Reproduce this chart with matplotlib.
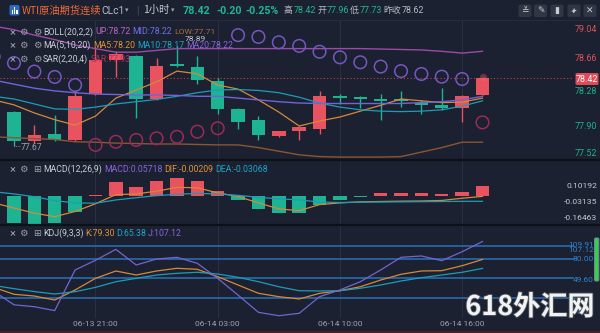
import matplotlib
matplotlib.use('Agg')
import matplotlib.pyplot as plt
from matplotlib.patches import Rectangle, FancyBboxPatch, FancyArrowPatch
from matplotlib.lines import Line2D
import matplotlib.patheffects as pe

W, H = 600, 333
BG = '#1b2130'
RED = '#e9525f'
GREEN = '#1db494'
GRID = '#283041'
SEP = '#0e1118'
CJK = ['Noto Sans CJK SC', 'DejaVu Sans']
LAT = ['Roboto', 'DejaVu Sans']

# ---------------- data ----------------
idx = list(range(-1, 24))
time_ticks = [4, 10, 16, 22]
time_labels = ['06-13 21:00', '06-14 03:00', '06-14 10:00', '06-14 16:00']

opens  = [78.31, 78.05, 77.72, 77.80, 77.73, 78.25, 78.62, 78.67, 78.19, 78.57, 78.55, 78.39,
          78.08, 77.96, 77.78, 77.83, 77.86, 78.22, 78.20, 78.19, 78.182, 78.15, 78.12, 78.09, 78.23]
highs  = [78.33, 78.06, 77.90, 78.01, 78.29, 78.77, 78.72, 78.68, 78.65, 78.78, 78.67, 78.42,
          78.09, 78.00, 77.84, 77.89, 78.28, 78.245, 78.22, 78.245, 78.28, 78.18, 78.31, 78.23, 78.44]
lows   = [78.03, 77.67, 77.70, 77.72, 77.72, 78.24, 78.44, 77.98, 78.18, 78.55, 78.36, 78.02,
          77.86, 77.74, 77.77, 77.73, 77.80, 78.14, 78.09, 77.96, 78.10, 78.02, 78.07, 77.93, 78.23]
closes = [78.05, 77.72, 77.79, 77.73, 78.22, 78.62, 78.69, 78.19, 78.56, 78.565, 78.40, 78.08,
          77.93, 77.79, 77.83, 77.88, 78.22, 78.20, 78.195, 78.17, 78.178, 78.12, 78.09, 78.22, 78.42]

boll_up  = [79.00, 78.96, 78.90, 78.85, 78.79, 78.75, 78.71, 78.71, 78.73, 78.75, 78.75, 78.75,
            78.75, 78.75, 78.75, 78.75, 78.75, 78.75, 78.75, 78.745, 78.74, 78.735, 78.72, 78.70, 78.72]
boll_mid = [78.40, 78.355, 78.31, 78.28, 78.26, 78.245, 78.24, 78.235, 78.235, 78.23, 78.22, 78.22,
            78.20, 78.18, 78.16, 78.145, 78.14, 78.14, 78.14, 78.14, 78.14, 78.15, 78.16, 78.18, 78.22]
boll_low = [77.77, 77.76, 77.75, 77.74, 77.715, 77.71, 77.70, 77.695, 77.69, 77.69, 77.685, 77.68,
            77.68, 77.65, 77.61, 77.57, 77.55, 77.545, 77.545, 77.545, 77.55, 77.60, 77.65, 77.71, 77.71]
ma5  = [78.18, 78.125, 78.035, 77.96, 77.90, 78.00, 78.20, 78.29, 78.38, 78.50, 78.47, 78.345,
        78.30, 78.18, 78.045, 77.89, 77.945, 77.99, 78.055, 78.12, 78.19, 78.17, 78.15, 78.155, 78.20]
ma10 = [78.22, 78.19, 78.135, 78.08, 78.075, 78.10, 78.135, 78.16, 78.185, 78.22, 78.26, 78.29,
        78.295, 78.285, 78.26, 78.21, 78.145, 78.10, 78.07, 78.055, 78.05, 78.055, 78.07, 78.11, 78.17]
ma20 = boll_mid
sar  = [78.66, 78.59, 78.495, 78.435, 78.345, 77.68, 77.715, 77.735, 77.753, 77.77, 77.827, 77.865,
        78.90, 78.88, 78.82, 78.78, 78.715, 78.653, 78.598, 78.55, 78.50, 78.468, 78.438, 78.412, 77.93]

macd_hist = [-0.150, -0.159, -0.163, -0.159, -0.095, 0.006, 0.080, 0.054, 0.089, 0.102, 0.089, 0.031,
             -0.023, -0.076, -0.101, -0.100, -0.052, -0.023, -0.003, 0.016, 0.019, 0.019, 0.014, 0.025, 0.05718]
dif = [-0.040, -0.070, -0.100, -0.120, -0.090, -0.045, 0.008, 0.012, 0.028, 0.050, 0.048, 0.018,
       -0.003, -0.040, -0.075, -0.085, -0.050, -0.040, -0.034, -0.032, -0.030, -0.029, -0.026, -0.013, -0.00209]
dea = [0.025, 0.012, -0.004, -0.027, -0.040, -0.042, -0.023, -0.010, 0.002, 0.010, 0.015, 0.012,
       0.004, -0.008, -0.016, -0.023, -0.035, -0.038, -0.036, -0.035, -0.034, -0.033, -0.032, -0.031, -0.03068]

k_line = [36, 25.3, 22.6, 16.4, 32, 50, 61.4, 55.2, 61.4, 65.6, 64, 52.6,
          39.7, 26.8, 21.6, 18, 26.8, 30.8, 37, 47.4, 56.3, 61.4, 61.9, 69.6, 79.30]
d_line = [39, 34, 29.5, 25.7, 29.3, 36, 44.8, 50, 55.2, 57.8, 59.4, 56.7,
          51.6, 44.8, 37, 30.8, 30.4, 30.8, 34.6, 39.7, 45.9, 51, 55.2, 59.4, 65.38]
j_line = [30, 9, 6, 0, 63, 78, 95, 70.7, 80, 82.6, 73.3, 50,
          24, -2.7, -7.9, -4.2, 21.6, 32, 44.8, 63, 82.6, 84.7, 77.4, 91.3, 107.12]
kdj_levels = [100, 80, 50, 20]

price_ticks = ['79.04', '78.66', '78.28', '77.90', '77.52']
macd_ticks = ['0.10192', '-0.03135', '-0.16463']
kdj_ticks = ['109.91', '107.12', '80.00', '49.60', '20.00', '-10.71']

# ---------------- layout helpers ----------------
STEP, X_FIRST = 20.37, 14.0
XLIM = (-X_FIRST / STEP, (W - X_FIRST) / STEP)

fig = plt.figure(figsize=(W / 100, H / 100), dpi=100, facecolor=BG)


def txt(x, y, s, color, size=6.3, ha='left', va='center', family=None, weight='normal', z=5, **kw):
    return fig.text(x / W, 1 - y / H, s, color=color, fontsize=size, ha=ha, va=va,
                    family=family or LAT, fontweight=weight, zorder=z, **kw)


def frect(x0, y0, x1, y1, color, z=1, **kw):
    fig.patches.append(Rectangle((x0 / W, 1 - y1 / H), (x1 - x0) / W, (y1 - y0) / H,
                                 transform=fig.transFigure, facecolor=color, zorder=z, **kw))


def panel(top, bottom, ylim):
    ax = fig.add_axes([0, 1 - bottom / H, 1, (bottom - top) / H])
    ax.set_facecolor(BG)
    ax.set_xlim(*XLIM)
    ax.set_ylim(*ylim)
    for s in ax.spines.values():
        s.set_visible(False)
    ax.set_xticks([])
    ax.set_yticks([])
    for t in time_ticks:
        ax.axvline(t, color=GRID, lw=0.8, zorder=0)
    return ax


# ---------------- main panel ----------------
ax = panel(20, 160, (78.42 + (78.3 - 160) / 90, 78.42 + (78.3 - 20) / 90))
for i, o, h, l, c in zip(idx, opens, highs, lows, closes):
    col = RED if c >= o else GREEN
    ax.vlines(i, l, h, color=col, lw=1.0, zorder=3)
    hgt = abs(c - o)
    bot = min(o, c)
    if hgt < 0.02:
        bot = (o + c) / 2 - 0.01
        hgt = 0.02
    ax.bar(i, hgt, bottom=bot, width=0.66, color=col, lw=0, zorder=4)

ax.plot(idx, boll_up, color='#9c4aa8', lw=1.0, zorder=5)
ax.plot(idx, boll_low, color='#8a5634', lw=1.0, zorder=5)
ax.plot(idx, ma5, color='#d4893a', lw=0.9, zorder=5)
ax.plot(idx, ma10, color='#1c9cbc', lw=0.9, zorder=5)
ax.plot(idx, ma20, color='#7163d8', lw=1.0, zorder=5)
sar_cols = ['#7656c0' if s > c else '#9a2a58' for s, c in zip(sar, closes)]
ax.scatter(idx, sar, s=82, facecolors='none', edgecolors=sar_cols, linewidths=1.1, zorder=6)
ax.axhline(closes[-1], xmax=573 / W, color='#b8424f', lw=0.8, ls=(0, (1, 2)), zorder=2)
ax.scatter([idx[-1]], [highs[-1]], s=28, color='#ff6070', alpha=0.35, lw=0, zorder=6)
ax.plot([0, 0, 0.3], [lows[1] + 0.05, lows[1], lows[1]], color='#8a909a', lw=0.6, ls=(0, (1, 1)), zorder=6)

# ---------------- MACD panel ----------------
axm = panel(160, 225, (-29 / 172, 36 / 172))
axm.bar(idx, macd_hist, width=0.66, lw=0, zorder=3,
        color=[RED if v >= 0 else GREEN for v in macd_hist])
axm.plot(idx, dif, color='#d4893a', lw=0.9, zorder=4)
axm.plot(idx, dea, color='#1c9cbc', lw=0.9, zorder=4)

# ---------------- KDJ panel ----------------
axk = panel(225, 318, (80 - 59 / 0.645, 80 + 34 / 0.645))
for lv in kdj_levels:
    axk.axhline(lv, xmax=573 / W, color='#2766a6', lw=1.3, zorder=2)
axk.plot(idx, k_line, color='#d4893a', lw=0.9, zorder=4)
axk.plot(idx, d_line, color='#1c9cbc', lw=0.9, zorder=4)
axk.plot(idx, j_line, color='#7563d0', lw=0.9, zorder=4)

# separators
for yy, col, lw in [(20, '#262c3a', 0.8), (160, SEP, 1.6), (225, SEP, 1.6)]:
    fig.lines.append(Line2D([0, 1], [1 - yy / H] * 2, transform=fig.transFigure, color=col, lw=lw, zorder=10))
frect(0, 331, 600, 333, '#4d1f24', z=10)

# ---------------- axis labels ----------------
for s, y, col in zip(price_ticks, [29, 58.3, 91.7, 126.7, 153],
                     ['#e0505c', '#e0505c', '#1fb08f', '#1fb08f', '#1fb08f']):
    txt(597, y, s, col, size=6.4, ha='right', z=12)
fig.patches.append(FancyBboxPatch((575.5 / W, 1 - 85 / H), 23 / W, 12 / H, boxstyle='round,pad=0,rounding_size=0.003',
                                  transform=fig.transFigure, facecolor='#e04a58', edgecolor='none', zorder=11))
txt(587, 79.2, '78.42', 'white', size=6.4, ha='center', z=12)
txt(195, 39, '78.89', '#c4c8d0', size=6.0, ha='center', z=12)
txt(21, 148, '77.67', '#9aa0aa', size=6.2, z=12)

for s, y in zip(macd_ticks, [185.7, 201.7, 218.3]):
    txt(597, y, s, '#c4c8d0', size=6.1, ha='right', z=12)
for s, y in zip(kdj_ticks, [245.0, 250.2, 259.2, 280.5, 297.2, 311.7]):
    txt(594, y, s, '#2f80d0', size=6.0, ha='right', z=12)
fig.patches.append(FancyBboxPatch((594.6 / W, 1 - 281 / H), 4.2 / W, 43 / H, boxstyle='round,pad=0,rounding_size=0.003',
                                  transform=fig.transFigure, facecolor='#33d058', edgecolor='#6d8f83', lw=0.8, zorder=12))
for t, s in zip(time_ticks, time_labels):
    txt(X_FIRST + STEP * t, 324.3, s, '#9ca2ad', size=6.1, ha='center', z=12)

# ---------------- legends ----------------
ICON = '#9aa0aa'
LBL = '#c8ccd4'
def icons(y, third):
    txt(12.5, y, '×', ICON, size=8, ha='center', z=12)
    txt(23.5, y, '⚙', ICON, size=6.8, ha='center', family=['DejaVu Sans'], z=12)
    txt(37, y, third, ICON, size=6.8, ha='center', family=['DejaVu Sans'], z=12)

icons(32, '⚙')
txt(43, 32, 'BOLL(20,2,2)', LBL, z=12)
txt(95, 32, 'UP:78.72', '#c263c9', z=12)
txt(132, 32, 'MID:78.22', '#6f6ff0', z=12)
txt(174, 31.5, 'LOW:77.71', '#a86b3c', size=6.1, z=12)
icons(45.5, '⚙')
txt(43, 45.5, 'MA(5,10,20)', LBL, z=12)
txt(93, 45.5, 'MA5:78.20', '#e0913a', z=12)
txt(137, 45.5, 'MA10:78.17', '#1fa3c6', z=12)
txt(186, 45.5, 'MA20:78.22', '#8a63dd', z=12)
icons(59, '⚙')
txt(43, 59, 'SAR(2,20,4)', LBL, z=12)
txt(91, 59, 'SAR:77.93', '#b8305f', z=12)

icons(169, '⊞')
txt(43, 169, 'MACD(12,26,9)', LBL, z=12)
txt(104, 169, 'MACD:0.05718', '#8a63dd', z=12)
txt(164, 169, 'DIF:-0.00209', '#e0913a', z=12)
txt(215, 169, 'DEA:-0.03068', '#1fa3c6', z=12)
icons(233, '⊞')
txt(43, 233, 'KDJ(9,3,3)', LBL, z=12)
txt(85, 233, 'K:79.30', '#e0913a', z=12)
txt(116, 233, 'D:65.38', '#1fa3c6', z=12)
txt(148, 233, 'J:107.12', '#8a63dd', z=12)

# ---------------- header ----------------
fig.patches.append(FancyBboxPatch((9.5 / W, 1 - 15.5 / H), 10 / W, 10.5 / H, boxstyle='round,pad=0,rounding_size=0.004',
                                  transform=fig.transFigure, facecolor='#2e6cc4', edgecolor='none', zorder=11))
for bx, bh in [(11.5, 4), (13.8, 6), (16.1, 3)]:
    frect(bx, 13.5 - bh, bx + 1.4, 13.5, 'white', z=12)
txt(22, 10.5, 'WTI原油期货连续', '#f26b3a', size=7.4, family=CJK, z=12)
txt(101, 10.5, 'CLc1', '#b8bcc6', size=7.4, z=12)
txt(126.5, 10.5, '▾', '#9aa0aa', size=5, ha='center', family=['DejaVu Sans'], z=12)
txt(137, 10.5, '|', '#4a5060', size=7.4, ha='center', z=12)
txt(143, 10.5, '1小时', '#c8ccd4', size=7.4, family=CJK, z=12)
txt(173, 10.5, '▾', '#9aa0aa', size=5, ha='center', family=['DejaVu Sans'], z=12)
txt(183, 10.5, '78.42', '#22b593', size=7.7, weight='bold', z=12)
txt(216, 10.5, '-0.20', '#22b593', size=7.7, weight='bold', z=12)
txt(245, 10.5, '-0.25%', '#22b593', size=7.7, weight='bold', z=12)
txt(284, 10.5, '高', '#b8bcc6', size=6.4, family=CJK, z=12)
txt(293.5, 10.5, '78.42', '#22b593', size=6.4, z=12)
txt(317, 10.5, '开', '#b8bcc6', size=6.4, family=CJK, z=12)
txt(326.5, 10.5, '77.96', '#22b593', size=6.4, z=12)
txt(350, 10.5, '低', '#b8bcc6', size=6.4, family=CJK, z=12)
txt(359.5, 10.5, '77.73', '#22b593', size=6.4, z=12)
txt(383, 10.5, '昨收', '#b8bcc6', size=6.4, family=CJK, z=12)
txt(402, 10.5, '78.62', '#b8bcc6', size=6.4, z=12)

for k, (cx, g) in enumerate(zip([525, 540.5, 557, 574, 590], ['≚', '✎', '▮', None, '✕'])):
    fig.patches.append(FancyBboxPatch(((cx - 6.5) / W, 1 - 17 / H), 13 / W, 12.5 / H,
                                      boxstyle='round,pad=0,rounding_size=0.004', transform=fig.transFigure,
                                      facecolor='#2f3644', edgecolor='none', zorder=11))
    if g is None:
        fig.patches.append(FancyArrowPatch(((cx - 3.2) / W, 1 - 14.2 / H), ((cx + 3.2) / W, 1 - 7.4 / H),
                                           arrowstyle='<->', mutation_scale=4, color='#c8ccd4', lw=0.8,
                                           transform=fig.transFigure, zorder=12))
    else:
        txt(cx, 10.8, g, '#c8ccd4', size=6.5, ha='center', family=['DejaVu Sans'], z=12)

# ---------------- watermark ----------------
txt(530, 307, '618外汇网', '#f2f2f2', size=19.5, ha='center', family=CJK, weight='bold', z=20,
    path_effects=[pe.withStroke(linewidth=1.2, foreground='#505860')])

fig.savefig('out.png', dpi=100, facecolor=BG)
